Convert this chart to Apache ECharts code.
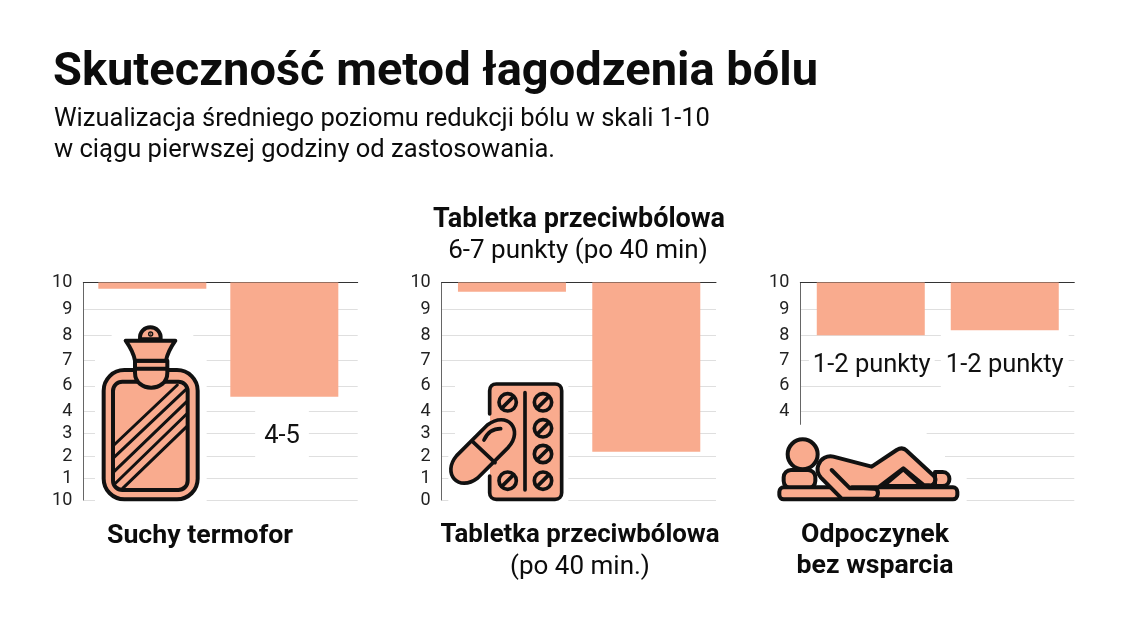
<!DOCTYPE html>
<html><head><meta charset="utf-8">
<style>html,body{margin:0;padding:0;background:#fff}#c{width:1129px;height:630px}</style>
<script src="https://cdn.jsdelivr.net/npm/echarts@6/dist/echarts.min.js"></script>
</head><body><div id="c"></div>
<script>
// Tick labels, top to bottom, and how far each sits below the top of the (uneven) printed axis
const tickLabels = ['10','9','8','7','6','4','3','2','1','0'];
const tickDepths = [0,1.24,2.42,3.58,4.75,5.93,6.95,7.98,9,10];
const firstPanelBottomLabel = '10';
// How far each bar hangs down from the top line, in the same axis units
const termoforBars = [0.29,5.25];
const tabletkaBars = [0.43,7.78];
const odpoczynekBars = [2.42,2.19];
const termoforNotes = ['','4-5'];
const tabletkaNotes = ['',''];
const odpoczynekNotes = ['1-2 punkty','1-2 punkty'];

const INK='#111111', FILL='#f9ab8e', TXT='#111111';
const FF='Roboto';

function svgUri(body){
  const s='<svg xmlns="http://www.w3.org/2000/svg" width="1020" height="720" viewBox="0 0 1020 720">'+body+'</svg>';
  return 'data:image/svg+xml;charset=utf-8,'+encodeURIComponent(s);
}
const g=(inner,sw)=>`<g fill="${FILL}" stroke="${INK}" stroke-width="${sw||9}" stroke-linejoin="round" stroke-linecap="round">${inner}</g>`;

const bottleSvg=svgUri(
 `<path fill="#fff" d="M215 165H460V255H500V700H165V255H215Z"/>`+
 g(`<rect x="191" y="300" width="282" height="388" rx="62"/>
    <rect x="219" y="335" width="224" height="325" rx="28"/>
    <path fill="none" stroke-width="9" d="M222 525L412 345M222 562L438 358M222 605L440 395M224 642L440 432M248 655L440 470"/>
    <path d="M285 272V308C285 368 382 368 382 308V272Z"/>
    <path fill="none" d="M285 296H382"/>
    <path d="M300 208C296 160 366 160 362 208Z"/>
    <path d="M257 212H406C392 232 382 250 378 272H285C281 250 271 232 257 212Z"/>
    <circle cx="332" cy="192" r="2" fill="${INK}"/>`,12));

let circles='';
[[323,397],[429,397],[429,475],[429,552],[323,632],[429,632]].forEach(([x,y])=>{
  circles+=`<circle cx="${x}" cy="${y}" r="26"/><path d="M${x-15} ${y+15}L${x+15} ${y-15}"/>`;
});
const pillsSvg=svgUri(
 `<path fill="#fff" d="M165 330H505V695H145V500H165Z"/>`+
 `<rect x="270" y="342" width="214" height="346" rx="20" fill="${FILL}"/>`+
 g(`<path fill="none" d="M269 432V362C269 350 277 342 289 342H465C477 342 485 350 485 362V668C485 680 477 688 465 688H289C277 688 269 680 269 668V618"/>
    <path fill="none" d="M375 368V660"/>${circles}
    <path d="M170 557L262 465C322 420 372 480 325 532L233 624C175 668 125 610 170 557Z"/>
    <path fill="none" d="M218 515L285 578M252 510C262 488 278 476 302 476"/>`,11));

const personSvg=svgUri(
 `<path fill="#fff" d="M70 464H530V500H585V570H650V700H70Z"/>`+
 g(`<rect x="101" y="600" width="95" height="55" rx="22"/>
    <path d="M555 606H578C605 606 605 648 578 648H555Z"/>
    <rect x="88" y="652" width="534" height="36" rx="13"/>
    <circle cx="158" cy="553" r="45"/>
    <path d="M400 648L460 598L515 648Z"/>
    <path d="M205 585C212 565 232 556 250 560L365 590L440 540C450 534 462 534 470 542L552 618C562 630 552 648 538 646H522L460 595L385 652H305L375 656C390 662 385 686 368 686H275L212 622C202 610 200 598 205 585Z"/>
    <path fill="none" d="M245 600L300 655H375"/>`,12));

const panels=[
 {left:83.3,right:357.7,x:[-0.523,1.556],bars:termoforBars,notes:termoforNotes,
  labels:tickDepths,bottom:firstPanelBottomLabel,
  box:[{},{padding:[19,9,9,9],distance:8,offset:[-2.3,0]}]},
 {left:441.7,right:716,x:[-0.523,1.519],bars:tabletkaBars,notes:tabletkaNotes,
  labels:tickDepths,bottom:null,box:[{},{}]},
 {left:800.3,right:1074.3,x:[-0.526,1.519],bars:odpoczynekBars,notes:odpoczynekNotes,
  labels:tickDepths.slice(0,6),bottom:null,
  box:[{padding:[16,4,6,4],distance:1,offset:[1,0]},{padding:[21,5,16,5],distance:1}]}
];

const grids=[],xAxes=[],yAxes=[],series=[];
panels.forEach((p,i)=>{
  grids.push({left:p.left,width:p.right-p.left,top:282.5,height:217.5,containLabel:false});
  xAxes.push({gridIndex:i,type:'value',min:p.x[0],max:p.x[1],
    axisLine:{show:true,onZero:true,lineStyle:{color:'#333',width:1}},
    axisTick:{show:false},axisLabel:{show:false},splitLine:{show:false}});
  yAxes.push({gridIndex:i,type:'value',inverse:true,min:0,max:10,
    axisLine:{show:true,onZero:false,lineStyle:{color:'#666',width:1}},
    axisTick:{show:false,customValues:tickDepths},
    axisLabel:{customValues:p.labels,margin:11,padding:[4,0,0,0],fontFamily:FF,fontSize:18,color:'#222',
      formatter:v=>(v===10&&p.bottom)?p.bottom:tickLabels[tickDepths.indexOf(v)]},
    splitLine:{show:true,lineStyle:{color:'#dfdfdf',width:1}}});
  series.push({type:'bar',xAxisIndex:i,yAxisIndex:i,barWidth:108,z:3,
    itemStyle:{color:FILL},
    data:p.bars.map((b,k)=>({value:[k,b],label:p.notes[k]?{
      show:true,position:'bottom',formatter:p.notes[k],fontFamily:FF,fontSize:25.5,color:TXT,
      backgroundColor:'#fff',...p.box[k]}:{show:false}}))});
});

const T=(text,x,y,size,weight,align)=>({text,left:x,top:y,textAlign:align||'center',padding:0,
  textStyle:{fontFamily:FF,fontSize:size,fontWeight:weight,color:'#0c0c0c',lineHeight:31}});

const chart=echarts.init(document.getElementById('c'),null,{renderer:'canvas'});
chart.setOption({
  backgroundColor:'#fff',animation:false,
  title:[
    {text:'Skuteczność metod łagodzenia bólu',left:53,top:46,padding:0,
     textStyle:{fontFamily:FF,fontSize:47,fontWeight:700,color:'#0c0c0c',lineHeight:54}},
    T('Wizualizacja średniego poziomu redukcji bólu w skali 1-10\nw ciągu pierwszej godziny od zastosowania.',54,104,25.5,400,'left'),
    T('Tabletka przeciwbólowa',579,205,27,700),
    T('6-7 punkty (po 40 min)',578,236,26,400),
    T('Suchy termofor',200,521,26.7,700),
    T('Tabletka przeciwbólowa',580,520,25.8,700),
    T('(po 40 min.)',580,552,26,400),
    T('Odpoczynek\nbez wsparcia',875,520,26.7,700)
  ],
  grid:grids,xAxis:xAxes,yAxis:yAxes,series,
  graphic:[
    {type:'image',x:40,y:270,z:50,scaleX:1/3,scaleY:1/3,style:{image:bottleSvg,width:1020,height:720}},
    {type:'image',x:400,y:270,z:50,scaleX:1/3,scaleY:1/3,style:{image:pillsSvg,width:1020,height:720}},
    {type:'image',x:750,y:270,z:50,scaleX:1/3,scaleY:1/3,style:{image:personSvg,width:1020,height:720}}
  ]
});
</script></body></html>
